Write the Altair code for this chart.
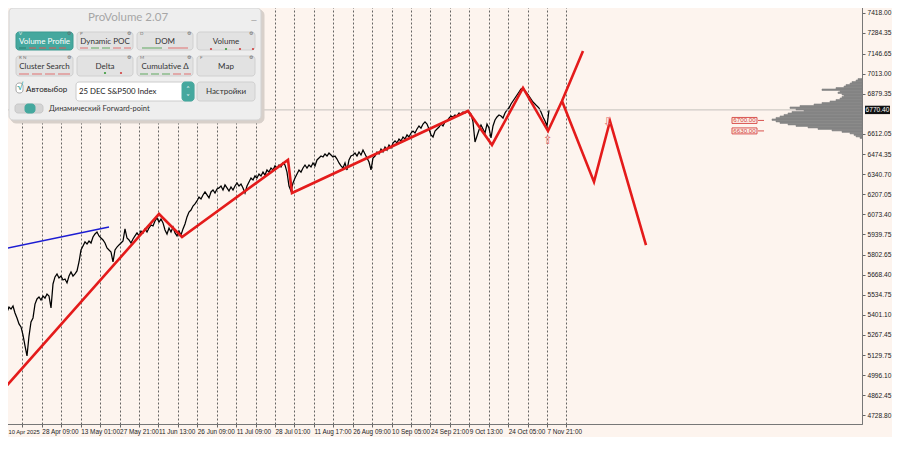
import json
import altair as alt
import pandas as pd

# ---------------- data ----------------
# close prices of the S&P 500 DEC contract (H4), sampled evenly left to right
close = [
    5233, 5353, 5420, 5453, 5440, 5460, 5413, 5380, 5340, 5320,
    5266, 5193, 5126, 5259, 5353, 5380, 5473, 5507, 5520, 5500,
    5527, 5513, 5540, 5527, 5447, 5607, 5654, 5674, 5647, 5660,
    5634, 5640, 5614, 5660, 5687, 5660, 5674, 5694, 5754, 5834,
    5861, 5888, 5874, 5894, 5881, 5921, 5941, 5954, 5928, 5914,
    5901, 5881, 5848, 5834, 5821, 5754, 5834, 5854, 5868, 5881,
    5894, 5975, 5914, 5901, 5881, 5908, 5928, 5948, 5928, 5961,
    5948, 5975, 5954, 5981, 6001, 5995, 6028, 6048, 6021, 6041,
    6015, 5968, 5941, 5981, 5954, 5988, 5948, 5928, 5961, 5934,
    5975, 6008, 6055, 6088, 6101, 6128, 6142, 6162, 6188, 6175,
    6202, 6222, 6202, 6182, 6222, 6235, 6215, 6242, 6249, 6262,
    6235, 6269, 6249, 6228, 6255, 6235, 6262, 6282, 6262, 6275,
    6249, 6215, 6262, 6289, 6315, 6302, 6329, 6315, 6342, 6329,
    6355, 6335, 6369, 6355, 6382, 6369, 6396, 6382, 6402, 6389,
    6416, 6402, 6355, 6262, 6228, 6282, 6315, 6342, 6369, 6355,
    6382, 6402, 6382, 6402, 6389, 6416, 6396, 6436, 6449, 6462,
    6456, 6476, 6462, 6482, 6469, 6456, 6462, 6442, 6416, 6396,
    6382, 6416, 6369, 6436, 6462, 6469, 6482, 6462, 6489, 6469,
    6502, 6476, 6449, 6422, 6369, 6449, 6462, 6489, 6476, 6509,
    6489, 6522, 6502, 6536, 6516, 6549, 6563, 6549, 6576, 6563,
    6589, 6576, 6603, 6589, 6616, 6629, 6616, 6643, 6663, 6649,
    6676, 6690, 6676, 6643, 6603, 6589, 6629, 6643, 6656, 6676,
    6663, 6690, 6696, 6716, 6730, 6723, 6736, 6730, 6750, 6743,
    6756, 6750, 6763, 6756, 6743, 6690, 6556, 6596, 6636, 6670,
    6643, 6616, 6676, 6649, 6583, 6663, 6703, 6723, 6736, 6730,
    6716, 6750, 6770, 6783, 6810, 6830, 6850, 6870, 6890, 6910,
    6917, 6897, 6883, 6863, 6843, 6823, 6810, 6796, 6783, 6756,
    6723, 6696, 6663, 6770,
]

# red forecast zigzag (sample index, price)
zz_main_i = [0, 78, 89.5, 142.5, 144.5, 232.5, 244.5, 260, 272.5, 279.5, 290]
zz_main_p = [4899, 6075, 5921, 6436, 6215, 6763, 6536, 6917, 6629, 6830, 7164]
zz_alt_i = [279.5, 295.5, 303.5, 321.5]
zz_alt_p = [6830, 6289, 6696, 5867]

# blue trend line
blue_i = [0, 53]
blue_p = [5841, 5988]

# arrows
arrow_i = [272.5, 302.5]
arrow_p = [6572, 6690]
arrow_txt = ["\u21e7", "\u21e9"]

# price level labels
level_p = [6700.00, 6630.00]

# current bid
bid = 6770.40

# volume profile (price bin low edge, relative volume)
prof_p = [6580, 6590, 6600, 6610, 6620, 6630, 6640, 6650, 6660, 6670,
          6680, 6690, 6700, 6710, 6720, 6730, 6740, 6750, 6760, 6770,
          6780, 6790, 6800, 6810, 6820, 6830, 6840, 6850, 6860, 6870,
          6880, 6890, 6900, 6910, 6920, 6930, 6940, 6950, 6960, 6970]
prof_v = [1, 3, 4, 6, 10, 15, 22, 27, 33, 37,
          41, 43, 45, 43, 41, 39, 37, 35, 29, 33,
          36, 31, 24, 20, 16, 13, 11, 10, 9, 10,
          12, 11, 20, 13, 9, 8, 6, 5, 3, 2]

x_labels = ["10 Apr 2025", "28 Apr 09:00", "13 May 01:00", "27 May 21:00",
            "11 Jun 13:00", "26 Jun 09:00", "11 Jul 09:00", "28 Jul 01:00",
            "11 Aug 17:00", "26 Aug 09:00", "10 Sep 05:00", "24 Sep 21:00",
            "9 Oct 13:00", "24 Oct 05:00", "7 Nov 21:00"]

y_ticks = [7418.00, 7284.35, 7146.65, 7013.00, 6879.35, 6612.05,
           6474.35, 6340.70, 6207.05, 6073.40, 5939.75, 5802.65, 5668.40,
           5534.75, 5401.10, 5267.45, 5129.75, 4996.10, 4862.45, 4728.80,
           4595.15]

# ---------------- layout ----------------
W, H = 860, 422
XDOM = [-0.5, 429.5]
YDOM = [4671.3, 7491.5]
STEP = 9.715
BG = "#fdf4ee"
AXFONT = "Liberation Sans"
UIFONT = "Lato"
RED = "#e41b1b"

xscale = alt.Scale(domain=XDOM, nice=False, zero=False)
yscale = alt.Scale(domain=YDOM, nice=False, zero=False)

grid_vals = [round(k * STEP, 3) for k in range(30)]
label_expr = (f"(round(datum.value/{STEP}) % 2 == 0) ? "
              f"{json.dumps(x_labels)}[round(datum.value/{2 * STEP})] : ''")

xaxis = alt.Axis(values=grid_vals, labelExpr=label_expr, grid=True,
                 gridDash=[2, 2], gridColor="#4a4a4a", gridWidth=1,
                 gridOpacity=0.85, tickSize=3, tickColor="#666",
                 domainColor="#777", labelAlign="left", labelBaseline="top",
                 labelPadding=1, labelFontSize={"condition": {"test": "datum.value == 0", "value": 5.8}, "value": 6.4},
                 labelColor="#222",
                 labelOffset={"condition": {"test": "datum.value == 0", "value": 5}, "value": 0},
                 labelFont=AXFONT, labelOverlap=False, labelFlush=False,
                 labelBound=False, title=None)
y_vals = [v for v in y_ticks if YDOM[0] <= v <= YDOM[1]]
yaxis = alt.Axis(orient="right", values=y_vals, format=".2f", grid=False,
                 tickSize=3, tickColor="#666", domainColor="#777",
                 labelFontSize=6.6, labelColor="#222", labelFont=AXFONT,
                 labelPadding=2, labelOverlap=False, labelFlush=False,
                 labelBound=False, title=None)

X = alt.X("i:Q", scale=xscale, axis=xaxis)
Y = alt.Y("p:Q", scale=yscale, axis=yaxis)

df_price = pd.DataFrame({"i": list(range(len(close))), "p": close})
price = alt.Chart(df_price).mark_line(color="#000000", strokeWidth=1.25).encode(x=X, y=Y)

bid_rule = alt.Chart(pd.DataFrame({"p": [bid]})).mark_rule(
    color="#c4c0bc", strokeWidth=1).encode(y=alt.Y("p:Q", scale=yscale, axis=yaxis))

df_zz = pd.DataFrame({
    "i": zz_main_i + zz_alt_i,
    "p": zz_main_p + zz_alt_p,
    "seg": ["a"] * len(zz_main_i) + ["b"] * len(zz_alt_i),
    "k": list(range(len(zz_main_i))) + list(range(len(zz_alt_i))),
})
zigzag = alt.Chart(df_zz).mark_line(color=RED, strokeWidth=2.6).encode(
    x=X, y=Y, detail="seg:N", order="k:Q")

blue = alt.Chart(pd.DataFrame({"i": blue_i, "p": blue_p})).mark_line(
    color="#1c1cd2", strokeWidth=1.5).encode(x=X, y=Y)

df_prof = pd.DataFrame({"lo": prof_p, "vol": prof_v})
profile = alt.Chart(df_prof).transform_calculate(
    hi="datum.lo + 10", x0=f"{XDOM[1]} - datum.vol", x1=f"{XDOM[1]}"
).mark_rect(color="#858585", stroke="#858585", strokeWidth=0.6).encode(
    x=alt.X("x0:Q", scale=xscale, axis=xaxis), x2="x1:Q",
    y=alt.Y("lo:Q", scale=yscale, axis=yaxis), y2="hi:Q")

arrows = alt.Chart(pd.DataFrame({"i": arrow_i, "p": arrow_p, "t": arrow_txt})).mark_text(
    color="#e26a6a", fontSize=12, font="DejaVu Sans").encode(x=X, y=Y, text="t:N")

df_lv = pd.DataFrame({"p": level_p, "t": [f"{v:.2f}" for v in level_p]})
lv_box = alt.Chart(df_lv).transform_calculate(
    lo="datum.p - 20", hi="datum.p + 20", bx0="364.5", bx1="377"
).mark_rect(fill="#fcefe9", stroke="#d9534f", strokeWidth=1).encode(
    x=alt.X("bx0:Q", scale=xscale, axis=xaxis), x2="bx1:Q",
    y=alt.Y("lo:Q", scale=yscale, axis=yaxis), y2="hi:Q")
lv_tick = alt.Chart(df_lv).transform_calculate(tx0="377.5", tx1="380.5").mark_rule(
    color="#d9534f", strokeWidth=1).encode(
    x=alt.X("tx0:Q", scale=xscale, axis=xaxis), x2="tx1:Q", y=Y)
lv_text = alt.Chart(df_lv).transform_calculate(tx="370.75").mark_text(
    color="#d43f3a", fontSize=6.2, font=AXFONT).encode(
    x=alt.X("tx:Q", scale=xscale, axis=xaxis), y=Y, text="t:N")

df_bid = pd.DataFrame({"p": [bid], "t": [f"{bid:.2f}"]})
bid_box = alt.Chart(df_bid).transform_calculate(
    lo="datum.p - 28", hi="datum.p + 28").mark_rect(color="#111111").encode(
    x=alt.value(W + 3), x2=alt.value(W + 28),
    y=alt.Y("lo:Q", scale=yscale, axis=yaxis), y2="hi:Q")
bid_text = alt.Chart(df_bid).mark_text(color="#ffffff", fontSize=6.6, font=AXFONT).encode(
    x=alt.value(W + 15.5), y=Y, text="t:N")

# ---------------- ProVolume panel (pixel layout) ----------------
GRAY_BTN = "#e2e2e2"
TEAL = "#45a89e"
panel_rects = [
    (9, 8, 262, 121, "#d8d0ca", "#d8d0ca"),
    (7, 6, 259, 118, "#eeeeee", "#d2d2d2"),
    (14, 30, 71, 48, TEAL, "#3b9a90"),
    (75, 30, 131, 48, GRAY_BTN, "#d0d0d0"),
    (135, 30, 191, 48, GRAY_BTN, "#d0d0d0"),
    (195, 30, 253, 48, GRAY_BTN, "#d0d0d0"),
    (14, 54, 71, 74, GRAY_BTN, "#d0d0d0"),
    (75, 54, 131, 74, GRAY_BTN, "#d0d0d0"),
    (135, 54, 191, 74, GRAY_BTN, "#d0d0d0"),
    (195, 54, 253, 74, GRAY_BTN, "#d0d0d0"),
    (14, 81, 21, 91, "#ffffff", "#a8a8a8"),
    (74, 80, 192, 99, "#ffffff", "#cccccc"),
    (180, 80, 192, 99, TEAL, TEAL),
    (195, 80, 253, 99, GRAY_BTN, "#d0d0d0"),
    (13, 102, 41, 111, "#d4d4d4", "#c8c8c8"),
    (23, 102, 33, 111, TEAL, TEAL),
]
df_pr = pd.DataFrame(panel_rects, columns=["x", "y", "x2", "y2", "fill", "stroke"])


def rect_layer(d, r):
    return alt.Chart(d).mark_rect(cornerRadius=r, strokeWidth=1).encode(
        x=alt.X("x:Q", scale=None, axis=None), x2="x2:Q",
        y=alt.Y("y:Q", scale=None, axis=None), y2="y2:Q",
        fill=alt.Fill("fill:N", scale=None, legend=None),
        stroke=alt.Stroke("stroke:N", scale=None, legend=None))


panel_layers = [rect_layer(df_pr.iloc[[0]], 5), rect_layer(df_pr.iloc[[1]], 4),
                rect_layer(df_pr.iloc[2:], 3)]

# indicator dashes under buttons (x, x2, y, colour)
dashes = [
    (17, 24, 46, "#2e7d6f"), (27, 34, 46, "#e05555"), (37, 44, 46, "#e05555"),
    (47, 54, 46, "#e05555"), (57, 64, 46, "#e05555"),
    (78, 86, 46, "#e07070"), (89, 97, 46, "#60a860"), (100, 108, 46, "#60a860"),
    (111, 119, 46, "#e07070"), (122, 129, 46, "#e07070"),
    (140, 160, 46, "#60a860"), (166, 186, 46, "#e07070"),
    (17, 27, 72, "#e07070"), (30, 40, 72, "#e07070"), (43, 53, 72, "#e07070"),
    (56, 68, 72, "#e07070"),
    (138, 146, 72, "#60a860"), (149, 157, 72, "#60a860"), (160, 168, 72, "#60a860"),
    (171, 179, 72, "#e07070"), (182, 189, 72, "#e07070"),
]
df_d = pd.DataFrame(dashes, columns=["x", "x2", "y", "c"])
dash_layer = alt.Chart(df_d).mark_rule(strokeWidth=1).encode(
    x=alt.X("x:Q", scale=None, axis=None), x2="x2:Q",
    y=alt.Y("y:Q", scale=None, axis=None),
    color=alt.Color("c:N", scale=None, legend=None))
dots = [(103, 71, "#3a9a3a"), (119, 71, "#d04040"), (209, 47, "#d04040"),
        (224, 47, "#3a9a3a"), (238, 47, "#d04040"), (251, 47, "#d04040")]
df_dots = pd.DataFrame(dots, columns=["x", "y", "c"])
dot_layer = alt.Chart(df_dots).mark_circle(size=5, opacity=1).encode(
    x=alt.X("x:Q", scale=None, axis=None), y=alt.Y("y:Q", scale=None, axis=None),
    color=alt.Color("c:N", scale=None, legend=None))

texts_center = [
    (126, 16, "ProVolume 2.07", 11.5, "#a6a6a6"),
    (252, 19, "\u2014", 8, "#8a8a8a"),
    (42.5, 40, "Volume Profile", 8, "#ffffff"),
    (103, 40, "Dynamic POC", 8, "#333333"),
    (163, 40, "DOM", 8, "#333333"),
    (224, 40, "Volume", 8, "#333333"),
    (42.5, 64.5, "Cluster Search", 8, "#333333"),
    (103, 64.5, "Delta", 8, "#333333"),
    (163, 64.5, "Cumulative \u0394", 8, "#333333"),
    (224, 64.5, "Map", 8, "#333333"),
    (224, 90, "\u041d\u0430\u0441\u0442\u0440\u043e\u0439\u043a\u0438", 8, "#333333"),
    (186, 85.5, "\u02c4", 6.5, "#ffffff"),
    (186, 94, "\u02c5", 6.5, "#ffffff"),
    (18, 85, "\u221a", 10, TEAL),
    (67, 32, "\u2699", 4.5, "#666666"), (127, 32, "\u2699", 4.5, "#666666"),
    (187, 32, "\u2699", 4.5, "#666666"), (249, 32, "\u2699", 4.5, "#666666"),
    (67, 56, "\u2699", 4.5, "#666666"), (127, 56, "\u2699", 4.5, "#666666"),
    (187, 56, "\u2699", 4.5, "#666666"), (249, 56, "\u2699", 4.5, "#666666"),
]
texts_left = [
    (24, 88, "\u0410\u0432\u0442\u043e\u0432\u044b\u0431\u043e\u0440", 8, "#222222"),
    (77, 90, "25 DEC S&P500 Index", 7.8, "#222222"),
    (47, 107, "\u0414\u0438\u043d\u0430\u043c\u0438\u0447\u0435\u0441\u043a\u0438\u0439 Forward-point", 7.5, "#333333"),
    (17, 32, "V", 4.5, "#e8f5f3"), (78, 32, "P", 4.5, "#777777"),
    (138, 32, "D", 4.5, "#777777"), (17, 56, "R  N", 4.5, "#777777"),
    (138, 56, "M", 4.5, "#777777"), (198, 56, "F", 4.5, "#777777"),
]
cols = ["x", "y", "t", "fs", "c"]


def text_layer(rows, align):
    return alt.Chart(pd.DataFrame(rows, columns=cols)).mark_text(
        align=align, baseline="middle", font=UIFONT).encode(
        x=alt.X("x:Q", scale=None, axis=None), y=alt.Y("y:Q", scale=None, axis=None),
        text="t:N", size=alt.Size("fs:Q", scale=None, legend=None),
        color=alt.Color("c:N", scale=None, legend=None))


chart = alt.layer(
    price, bid_rule, zigzag, blue, profile, arrows, lv_box, lv_tick, lv_text,
    *panel_layers, dash_layer, dot_layer,
    text_layer(texts_center, "center"), text_layer(texts_left, "left"),
    bid_box, bid_text,
).properties(
    width=W, height=H,
    autosize=alt.AutoSizeParams(type="none"),
    padding={"left": -6, "top": -6, "right": 30, "bottom": 13},
).configure(background=BG).configure_view(stroke="#8a8a8a", strokeWidth=1)

chart.save("out.html", embed_options={"renderer": "svg", "actions": False})
